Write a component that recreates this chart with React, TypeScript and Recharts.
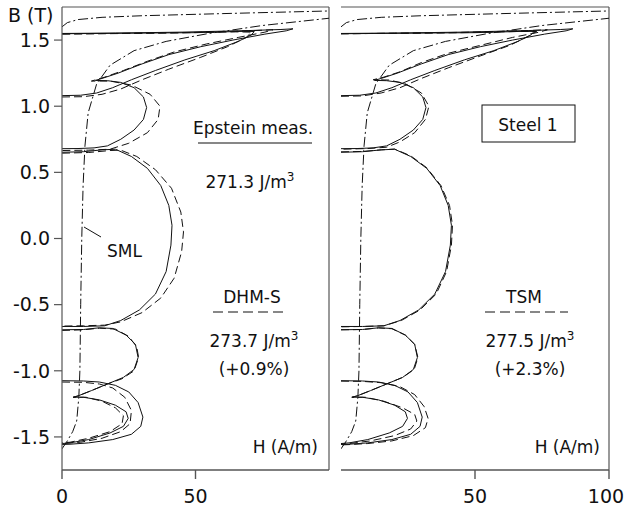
import { LineChart, Line, XAxis, YAxis, ReferenceLine } from "recharts";

type Pt = [number, number];

// tick values
const B_TICKS = [-1.5, -1, -0.5, 0, 0.5, 1, 1.5];
const H_TICKS_LEFT = [0, 50];
const H_TICKS_RIGHT = [0, 50, 100];

// SML (static major loop), same in both panels  [H (A/m), B (T)]
const smlRise: Pt[] = [
  [0, -1.59], [2, -1.53], [4, -1.46], [5.5, -1.38], [6.3, -1.2], [6.7, -1.0], [7, -0.5],
  [7.4, 0], [7.9, 0.4], [8.6, 0.7], [9.8, 0.95], [13, 1.17], [18, 1.31], [27, 1.42],
  [39, 1.49], [55, 1.55], [75, 1.61], [100, 1.665],
];
const smlFall: Pt[] = [
  [0, 1.6], [2, 1.632], [6, 1.655], [15, 1.672], [30, 1.684], [60, 1.7], [100, 1.72],
];

// Epstein measurement (solid), same in both panels
const measA: Pt[] = [
  [0, 1.55], [20, 1.553], [45, 1.56], [70, 1.572], [82, 1.58], [86.5, 1.585], [84, 1.57],
  [76, 1.545], [64, 1.5], [52, 1.45], [40, 1.39], [30, 1.32], [21, 1.25], [15, 1.21],
  [12.5, 1.195], [17, 1.193], [22, 1.18], [27, 1.14], [30.5, 1.07], [31.7, 0.99],
  [30.5, 0.9], [27, 0.82], [22, 0.75], [17, 0.7], [12, 0.685], [6, 0.68], [0, 0.679],
];
const measB: Pt[] = [
  [0, 1.08], [7, 1.083], [13, 1.1], [19, 1.14], [26, 1.2], [35, 1.27], [46, 1.35],
  [57, 1.42], [66, 1.49], [71, 1.54], [72, 1.565], [68, 1.566], [50, 1.556], [25, 1.552], [0, 1.548],
];
const measC: Pt[] = [
  [0, 0.652], [8, 0.656], [15, 0.67], [20, 0.675], [26, 0.62], [32, 0.53], [37, 0.4],
  [40, 0.25], [41.2, 0.1], [40.8, -0.05], [39, -0.25], [35, -0.42], [29, -0.54],
  [22, -0.62], [16, -0.66], [8, -0.665], [0, -0.665],
];
const measD: Pt[] = [
  [0, -0.69], [8, -0.688], [14, -0.675], [19, -0.68], [24, -0.73], [27.5, -0.8], [28.5, -0.9],
  [27, -0.99], [23, -1.05], [17, -1.1], [11, -1.15], [6, -1.19], [4.2, -1.2], [8, -1.2],
  [14, -1.22], [20, -1.26], [24, -1.31], [24.8, -1.36], [23, -1.42], [18, -1.47],
  [10, -1.52], [3, -1.545], [0, -1.55],
];
const measE: Pt[] = [
  [0, -1.075], [8, -1.077], [14, -1.085], [20, -1.11], [25, -1.16], [28.5, -1.24],
  [30.3, -1.35], [29.5, -1.42], [26, -1.48], [19, -1.52], [10, -1.545], [3, -1.555], [0, -1.557],
];

// DHM-S model (dashed, left panel)
const dhmA: Pt[] = [
  [0, 1.545], [25, 1.55], [50, 1.558], [70, 1.57], [79, 1.578], [76, 1.56], [66, 1.52],
  [54, 1.47], [42, 1.41], [32, 1.34], [23, 1.27], [16, 1.22], [11, 1.19], [18, 1.19],
  [26, 1.16], [33, 1.09], [36.7, 1.0], [36, 0.9], [32, 0.8], [25, 0.72], [18, 0.675],
  [10, 0.668], [0, 0.665],
];
const dhmB: Pt[] = [
  [0, 1.07], [8, 1.072], [15, 1.09], [22, 1.13], [30, 1.2], [40, 1.28], [52, 1.37],
  [62, 1.45], [69, 1.52], [71, 1.56], [65, 1.562], [45, 1.555], [20, 1.55], [0, 1.547],
];
const dhmC: Pt[] = [
  [0, 0.645], [10, 0.65], [18, 0.665], [22, 0.668], [28, 0.62], [35, 0.52], [41, 0.38],
  [44.5, 0.2], [45.5, 0.05], [44.8, -0.1], [42, -0.3], [37, -0.45], [30, -0.56],
  [22, -0.63], [16, -0.655], [8, -0.66], [0, -0.662],
];
const dhmD: Pt[] = [
  [0, -0.695], [8, -0.69], [14, -0.678], [20, -0.685], [25, -0.74], [28, -0.82], [28.7, -0.9],
  [27, -1.0], [22.5, -1.06], [17, -1.1], [11, -1.15], [6, -1.19], [4.2, -1.2], [9, -1.2],
  [15, -1.23], [20, -1.28], [23, -1.34], [22.5, -1.4], [18, -1.46], [10, -1.51], [3, -1.54], [0, -1.545],
];
const dhmE: Pt[] = [
  [0, -1.085], [8, -1.087], [14, -1.1], [19, -1.13], [23.5, -1.2], [26, -1.3], [25.5, -1.4],
  [22, -1.46], [15, -1.51], [7, -1.54], [0, -1.55],
];

// TSM model (dashed, right panel)
const tsmA: Pt[] = [
  [0, 1.548], [25, 1.552], [50, 1.56], [70, 1.572], [77, 1.578], [74, 1.56], [64, 1.52],
  [52, 1.46], [40, 1.4], [30, 1.33], [22, 1.26], [16, 1.22], [12, 1.2], [18, 1.198],
  [24, 1.17], [30, 1.1], [32.8, 1.0], [31.5, 0.9], [27.5, 0.8], [22, 0.73], [17, 0.69],
  [10, 0.68], [0, 0.675],
];
const tsmB: Pt[] = [
  [0, 1.075], [8, 1.078], [15, 1.1], [22, 1.14], [30, 1.21], [40, 1.29], [52, 1.38],
  [63, 1.46], [70, 1.53], [73, 1.565], [66, 1.565], [45, 1.556], [20, 1.551], [0, 1.548],
];
const tsmC: Pt[] = [
  [0, 0.655], [8, 0.658], [15, 0.67], [20, 0.676], [26, 0.625], [32, 0.535], [37.3, 0.4],
  [40.5, 0.25], [41.6, 0.1], [41.2, -0.05], [39.4, -0.25], [35.5, -0.42], [29.5, -0.54],
  [22.5, -0.62], [16, -0.66], [8, -0.665], [0, -0.668],
];
const tsmD: Pt[] = [
  [0, -0.69], [8, -0.688], [14, -0.676], [19, -0.682], [24, -0.73], [27.5, -0.8], [28.7, -0.9],
  [27.3, -0.99], [23, -1.05], [17, -1.1], [11, -1.15], [6, -1.19], [4, -1.2], [9, -1.2],
  [16, -1.23], [23, -1.28], [27.5, -1.33], [28.3, -1.38], [26, -1.44], [20, -1.49],
  [11, -1.53], [3, -1.55], [0, -1.555],
];
const tsmE: Pt[] = [
  [0, -1.078], [8, -1.08], [15, -1.09], [22, -1.12], [27.5, -1.18], [31, -1.27], [32.5, -1.36],
  [31.5, -1.43], [27, -1.49], [19, -1.53], [10, -1.55], [3, -1.558], [0, -1.56],
];

const rows = (pts: Pt[]) => pts.map(([h, b]) => ({ h, b }));

const FONT = "'DejaVu Sans', sans-serif";
const AXIS = "#555";
const DASH = "8 4";
const DASH_DOT = "10 3 2 3";

const measured = [measA, measB, measC, measD, measE];
const sml = [smlRise, smlFall];

// x tick; the "100" label is nudged left so it stays inside the page
const HTick = (props: any) => {
  const { x, y, payload } = props;
  const dx = payload.value === 100 ? -3 : 0;
  return (
    <text x={x + dx} y={y} dy="0.71em" textAnchor="middle" fontSize={19} fontFamily={FONT} fill="#111">
      {payload.value}
    </text>
  );
};

function Panel({ model, left, width, yAxis, hTicks }: {
  model: Pt[][]; left: number; width: number; yAxis: boolean; hTicks: number[];
}) {
  const series = [
    ...sml.map((d) => ({ d, dash: DASH_DOT })),
    ...model.map((d) => ({ d, dash: DASH })),
    ...measured.map((d) => ({ d, dash: undefined as string | undefined })),
  ];
  return (
    <div style={{ position: "absolute", left, top: 0 }}>
      <LineChart width={width} height={516} margin={{ top: 7, right: yAxis ? 6 : 16, left: 0, bottom: 0 }}>
        <XAxis
          type="number" dataKey="h" domain={[0, 100]} ticks={hTicks} allowDataOverflow
          height={46} tickSize={9} tickMargin={11}
          stroke={AXIS} strokeWidth={1.4} tick={HTick}
        />
        <YAxis
          type="number" dataKey="b" domain={[-1.75, 1.75]} ticks={B_TICKS} allowDataOverflow
          width={yAxis ? 62 : 0} tickSize={8} tickMargin={4}
          tick={yAxis ? { fill: "#111", fontSize: 19, fontFamily: FONT } : false}
          tickLine={yAxis} stroke={AXIS} strokeWidth={1.2}
          tickFormatter={(v: number) => v.toFixed(1)}
        />
        <ReferenceLine y={1.75} stroke={AXIS} strokeWidth={1.2} />
        <ReferenceLine x={100} stroke={AXIS} strokeWidth={1.2} />
        {series.map((s, i) => (
          <Line
            key={i} data={rows(s.d)} dataKey="b" type="linear" stroke="#111" strokeWidth={1}
            strokeDasharray={s.dash} dot={false} activeDot={false} isAnimationActive={false}
          />
        ))}
      </LineChart>
    </div>
  );
}

export default function App() {
  const t = { fontFamily: FONT, fill: "#111" } as const;
  return (
    <div style={{ position: "absolute", left: 0, top: 0, width: 625, height: 516, background: "#fff" }}>
      <Panel model={[dhmA, dhmB, dhmC, dhmD, dhmE]} left={0} width={335} yAxis hTicks={H_TICKS_LEFT} />
      <Panel model={[tsmA, tsmB, tsmC, tsmD, tsmE]} left={341} width={284} yAxis={false} hTicks={H_TICKS_RIGHT} />
      <svg width={625} height={516} style={{ position: "absolute", left: 0, top: 0, pointerEvents: "none" }}>
        <text x={8} y={22} fontSize={19} {...t}>B (T)</text>

        <text x={253} y={134} fontSize={17} textAnchor="middle" {...t}>Epstein meas.</text>
        <line x1={198} y1={143} x2={312} y2={143} stroke="#111" strokeWidth={1.2} />
        <text x={250} y={188} fontSize={17} textAnchor="middle" {...t}>
          271.3 J/m<tspan dy={-7} fontSize={12}>3</tspan>
        </text>

        <text x={107} y={257} fontSize={17} {...t}>SML</text>
        <line x1={84} y1={227} x2={101} y2={237} stroke="#111" strokeWidth={1} />

        <text x={252} y={303} fontSize={17} textAnchor="middle" {...t}>DHM-S</text>
        <line x1={213} y1={312} x2={288} y2={312} stroke="#111" strokeWidth={1.2} strokeDasharray="10 5" />
        <text x={254} y={347} fontSize={17} textAnchor="middle" {...t}>
          273.7 J/m<tspan dy={-7} fontSize={12}>3</tspan>
        </text>
        <text x={254} y={375} fontSize={17} textAnchor="middle" {...t}>(+0.9%)</text>
        <text x={318} y={453} fontSize={17} textAnchor="end" {...t}>H (A/m)</text>

        <rect x={482} y={105} width={93} height={37} fill="#fff" stroke="#111" strokeWidth={1} />
        <text x={528} y={131} fontSize={17} textAnchor="middle" {...t}>Steel 1</text>

        <text x={524} y={303} fontSize={17} textAnchor="middle" {...t}>TSM</text>
        <line x1={485} y1={312} x2={568} y2={312} stroke="#111" strokeWidth={1.2} strokeDasharray="10 5" />
        <text x={530} y={347} fontSize={17} textAnchor="middle" {...t}>
          277.5 J/m<tspan dy={-7} fontSize={12}>3</tspan>
        </text>
        <text x={530} y={375} fontSize={17} textAnchor="middle" {...t}>(+2.3%)</text>
        <text x={600} y={453} fontSize={17} textAnchor="end" {...t}>H (A/m)</text>
      </svg>
    </div>
  );
}
